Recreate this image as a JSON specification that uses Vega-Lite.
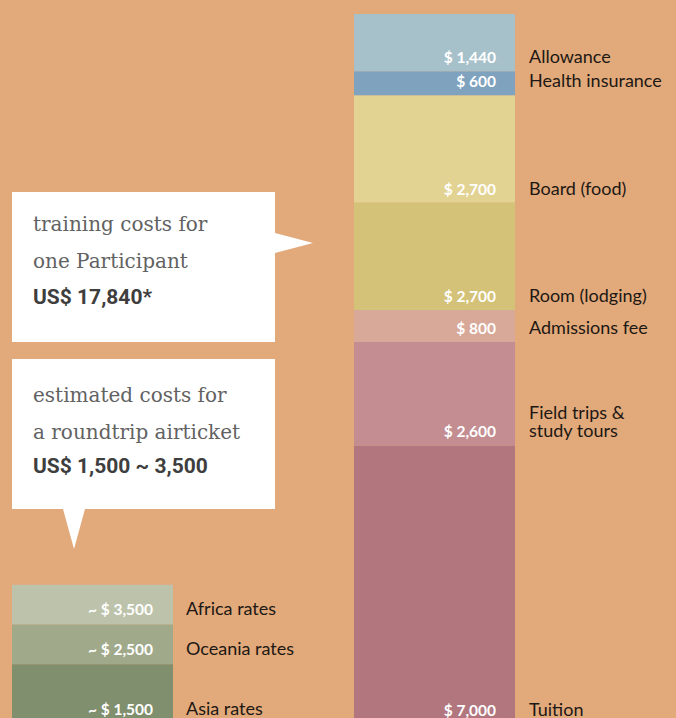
{
  "$schema": "https://vega.github.io/schema/vega-lite/v6.json",
  "width": 676,
  "height": 718,
  "autosize": {"type": "none"},
  "padding": 0,
  "background": "#E2A97A",
  "config": {
    "view": {"stroke": null},
    "locale": {"number": {"decimal": ".", "thousands": ",", "grouping": [3], "currency": [" $ ", ""]}}
  },
  "datasets": {
    "training": [
      {"group": "Training", "item": "Tuition", "amount": 7000, "rank": 1},
      {"group": "Training", "item": "Field trips &\nstudy tours", "amount": 2600, "rank": 2},
      {"group": "Training", "item": "Admissions fee", "amount": 800, "rank": 3},
      {"group": "Training", "item": "Room (lodging)", "amount": 2700, "rank": 4},
      {"group": "Training", "item": "Board (food)", "amount": 2700, "rank": 5},
      {"group": "Training", "item": "Health insurance", "amount": 600, "rank": 6},
      {"group": "Training", "item": "Allowance", "amount": 1440, "rank": 7}
    ],
    "airfare": [
      {"group": "Airfare", "item": "Africa rates", "from": 2500, "amount": 3500},
      {"group": "Airfare", "item": "Oceania rates", "from": 1500, "amount": 2500},
      {"group": "Airfare", "item": "Asia rates", "from": 0, "amount": 1500}
    ]
  },
  "layer": [
    {
      "data": {"name": "training"},
      "transform": [
        {"stack": "amount", "groupby": ["group"], "sort": [{"field": "rank", "order": "ascending"}], "as": ["y0", "y1"]}
      ],
      "layer": [
        {
          "mark": {"type": "bar"},
          "encoding": {
            "x": {"field": "group", "type": "nominal", "axis": null,
                  "scale": {"domain": ["Airfare", "Training"], "paddingInner": 0.52924, "paddingOuter": 0.25292, "align": 0.0694}},
            "y": {"field": "y0", "type": "quantitative", "axis": null,
                  "scale": {"domain": [150.75, 18190.95], "nice": false, "zero": false}},
            "y2": {"field": "y1"},
            "color": {"field": "item", "type": "nominal", "legend": null,
              "scale": {
                "domain": ["Tuition", "Field trips &\nstudy tours", "Admissions fee", "Room (lodging)", "Board (food)", "Health insurance", "Allowance", "Africa rates", "Oceania rates", "Asia rates"],
                "range": ["#B2767F", "#C38D91", "#D8A898", "#D4C278", "#E3D393", "#7FA2BE", "#A7C1CB", "#BDC3AB", "#A0AA8B", "#808F6D"]}}
          }
        },
        {
          "mark": {"type": "text", "align": "right", "baseline": "alphabetic", "dx": -19, "dy": -8,
                   "font": "Lato", "fontSize": 15.5, "fontWeight": "bold", "color": "#FFFFFF"},
          "encoding": {
            "x": {"field": "group", "type": "nominal", "bandPosition": 1},
            "y": {"field": "y0", "type": "quantitative"},
            "text": {"field": "amount", "type": "quantitative", "format": "$,"}
          }
        },
        {
          "transform": [{"filter": {"not": {"field": "item", "oneOf": ["Field trips &\nstudy tours"]}}}],
          "mark": {"type": "text", "align": "left", "baseline": "alphabetic", "dx": 14, "dy": -8,
                   "font": "Lato", "fontSize": 18, "color": "#1C1814"},
          "encoding": {
            "x": {"field": "group", "type": "nominal", "bandPosition": 1},
            "y": {"field": "y0", "type": "quantitative"},
            "text": {"field": "item", "type": "nominal"}
          }
        },
        {
          "transform": [{"filter": {"field": "item", "oneOf": ["Field trips &\nstudy tours"]}}],
          "mark": {"type": "text", "align": "left", "baseline": "alphabetic", "dx": 14, "dy": -26,
                   "font": "Lato", "fontSize": 18, "color": "#1C1814", "lineBreak": "\n", "lineHeight": 18},
          "encoding": {
            "x": {"field": "group", "type": "nominal", "bandPosition": 1},
            "y": {"field": "y0", "type": "quantitative"},
            "text": {"field": "item", "type": "nominal"}
          }
        }
      ]
    },
    {
      "data": {"name": "airfare"},
      "layer": [
        {
          "mark": {"type": "bar"},
          "encoding": {
            "x": {"field": "group", "type": "nominal"},
            "y": {"field": "amount", "type": "quantitative", "stack": null},
            "y2": {"field": "from"},
            "color": {"field": "item", "type": "nominal", "legend": null}
          }
        },
        {
          "mark": {"type": "text", "align": "right", "baseline": "alphabetic", "dx": -20, "dy": -9,
                   "font": "Lato", "fontSize": 15.5, "fontWeight": "bold", "color": "#FFFFFF"},
          "encoding": {
            "x": {"field": "group", "type": "nominal", "bandPosition": 1},
            "y": {"field": "from", "type": "quantitative"},
            "text": {"field": "amount", "type": "quantitative", "format": "~>$9,"}
          }
        },
        {
          "mark": {"type": "text", "align": "left", "baseline": "alphabetic", "dx": 13, "dy": -9,
                   "font": "Lato", "fontSize": 18, "color": "#1C1814"},
          "encoding": {
            "x": {"field": "group", "type": "nominal", "bandPosition": 1},
            "y": {"field": "from", "type": "quantitative"},
            "text": {"field": "item", "type": "nominal"}
          }
        }
      ]
    },
    {
      "data": {"values": [{"box": "training costs"}]},
      "mark": {"type": "rect", "color": "#FFFFFF"},
      "encoding": {
        "x": {"datum": "Airfare", "type": "nominal", "bandPosition": 0},
        "x2": {"datum": "Airfare", "bandPosition": 1.6335},
        "y": {"datum": 13367, "type": "quantitative"},
        "y2": {"datum": 9598}
      }
    },
    {
      "data": {"values": [{"box": "airticket"}]},
      "mark": {"type": "rect", "color": "#FFFFFF"},
      "encoding": {
        "x": {"datum": "Airfare", "type": "nominal", "bandPosition": 0},
        "x2": {"datum": "Airfare", "bandPosition": 1.6335},
        "y": {"datum": 9171, "type": "quantitative"},
        "y2": {"datum": 5402}
      }
    },
    {
      "data": {"values": [{"pointer": "training costs"}]},
      "mark": {"type": "point", "filled": true, "opacity": 1, "color": "#FFFFFF", "strokeWidth": 0,
               "shape": "M-1,-0.526L1,0L-1,0.526Z", "size": 1444},
      "encoding": {
        "x": {"datum": "Airfare", "type": "nominal", "bandPosition": 1.7516},
        "y": {"datum": 12085, "type": "quantitative"}
      }
    },
    {
      "data": {"values": [{"pointer": "airticket"}]},
      "mark": {"type": "point", "filled": true, "opacity": 1, "color": "#FFFFFF", "strokeWidth": 0,
               "shape": "M-0.55,-1L0.55,-1L0,1Z", "size": 1600},
      "encoding": {
        "x": {"datum": "Airfare", "type": "nominal", "bandPosition": 0.3851},
        "y": {"datum": 4899, "type": "quantitative"}
      }
    },
    {
      "data": {"values": [{"caption": "training costs for\none Participant"}]},
      "mark": {"type": "text", "align": "left", "baseline": "alphabetic", "font": "DejaVu Serif", "fontSize": 20,
               "color": "#626262", "lineBreak": "\n", "lineHeight": 37},
      "encoding": {
        "x": {"datum": "Airfare", "type": "nominal", "bandPosition": 0.1304},
        "y": {"datum": 12387, "type": "quantitative"},
        "text": {"field": "caption", "type": "nominal"}
      }
    },
    {
      "data": {"values": [{"caption": "US$ 17,840*"}]},
      "mark": {"type": "text", "align": "left", "baseline": "alphabetic", "font": "Roboto", "fontSize": 21,
               "fontWeight": "bold", "color": "#3E3E3E"},
      "encoding": {
        "x": {"datum": "Airfare", "type": "nominal", "bandPosition": 0.1304},
        "y": {"datum": 10553, "type": "quantitative"},
        "text": {"field": "caption", "type": "nominal"}
      }
    },
    {
      "data": {"values": [{"caption": "estimated costs for\na roundtrip airticket"}]},
      "mark": {"type": "text", "align": "left", "baseline": "alphabetic", "font": "DejaVu Serif", "fontSize": 20,
               "color": "#626262", "lineBreak": "\n", "lineHeight": 37},
      "encoding": {
        "x": {"datum": "Airfare", "type": "nominal", "bandPosition": 0.1304},
        "y": {"datum": 8090, "type": "quantitative"},
        "text": {"field": "caption", "type": "nominal"}
      }
    },
    {
      "data": {"values": [{"caption": "US$ 1,500 ~ 3,500"}]},
      "mark": {"type": "text", "align": "left", "baseline": "alphabetic", "font": "Roboto", "fontSize": 21,
               "fontWeight": "bold", "color": "#3E3E3E"},
      "encoding": {
        "x": {"datum": "Airfare", "type": "nominal", "bandPosition": 0.1304},
        "y": {"datum": 6307, "type": "quantitative"},
        "text": {"field": "caption", "type": "nominal"}
      }
    }
  ]
}
